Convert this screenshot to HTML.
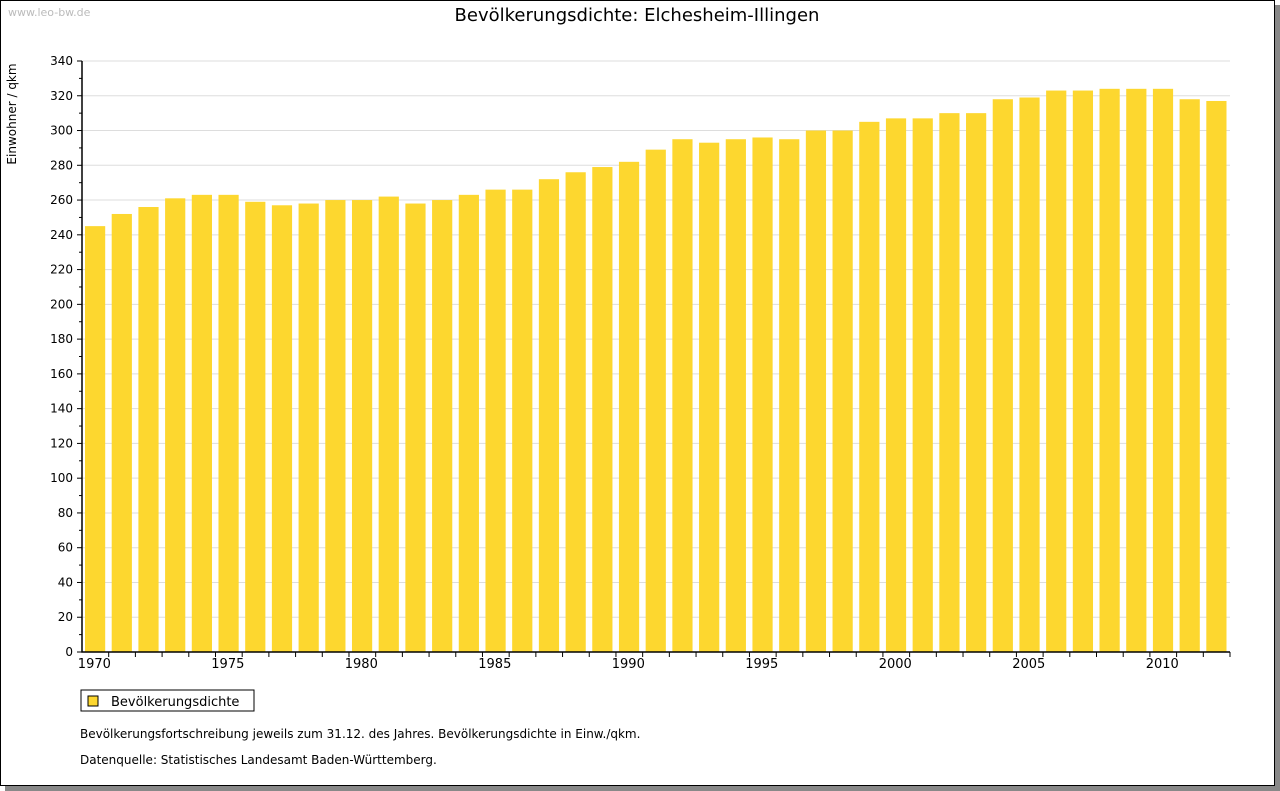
<!DOCTYPE html>
<html><head><meta charset="utf-8"><style>
body{margin:0;background:#fff;width:1280px;height:791px;overflow:hidden;font-family:"DejaVu Sans","Liberation Sans",sans-serif}
#frame{position:absolute;left:0;top:0;width:1273px;height:784px;border:1px solid #000;box-shadow:5px 5px 0 #888;background:#fff}
</style></head><body>
<div id="frame"></div>
<svg width="1280" height="791" style="position:absolute;left:0;top:0" font-family="DejaVu Sans, Liberation Sans, sans-serif">
<text x="8" y="16" font-size="11" fill="#bbb">www.leo-bw.de</text>
<text x="637" y="21" font-size="18" text-anchor="middle" fill="#000">Bevölkerungsdichte: Elchesheim-Illingen</text>
<text transform="translate(16,114) rotate(-90)" font-size="12" text-anchor="middle">Einwohner / qkm</text>
<g id="grid"></g><g id="bars"></g><g id="axes"></g>
<rect x="81" y="690" width="173" height="21" fill="#fff" stroke="#000"/>
<rect x="88" y="696" width="10" height="10" fill="#fdd72f" stroke="#000"/>
<text x="111" y="706" font-size="13">Bevölkerungsdichte</text>
<text x="80" y="738" font-size="12">Bevölkerungsfortschreibung jeweils zum 31.12. des Jahres. Bevölkerungsdichte in Einw./qkm.</text>
<text x="80" y="764" font-size="12">Datenquelle: Statistisches Landesamt Baden-Württemberg.</text>
</svg>
<script>
const years=[1970,1971,1972,1973,1974,1975,1976,1977,1978,1979,1980,1981,1982,1983,1984,1985,1986,1987,1988,1989,1990,1991,1992,1993,1994,1995,1996,1997,1998,1999,2000,2001,2002,2003,2004,2005,2006,2007,2008,2009,2010,2011,2012];
const values=[245,252,256,261,263,263,259,257,258,260,260,262,258,260,263,266,266,272,276,279,282,289,295,293,295,296,295,300,300,305,307,307,310,310,318,319,323,323,324,324,324,318,317];
const yTicks=[0,20,40,60,80,100,120,140,160,180,200,220,240,260,280,300,320,340];
const xLabels=[1970,1975,1980,1985,1990,1995,2000,2005,2010];
const NS="http://www.w3.org/2000/svg";
const L=82,R=1230,T=61,B=652,yMax=340;
const step=(R-L)/years.length;
const y=v=>B-(v/yMax)*(B-T);
const x=i=>L+i*step;
function mk(tag,attrs,parent){const e=document.createElementNS(NS,tag);for(const k in attrs)e.setAttribute(k,attrs[k]);document.getElementById(parent).appendChild(e);return e;}
yTicks.forEach(t=>{
 if(t>0){const g=mk('line',{x1:L,x2:R,y1:y(t),y2:y(t),stroke:'#ddd'},'grid');
 
 }
 const tk=mk('line',{x1:L-5,x2:L,y1:y(t),y2:y(t),stroke:'#000'},'axes');
 
 
 if(t+10<=yMax){const mt=mk('line',{x1:L-3,x2:L,y1:y(t+10),y2:y(t+10),stroke:'#000'},'axes');
 
 }
 const lb=mk('text',{x:L-9,y:y(t)+4,'font-size':12,'text-anchor':'end'},'axes');lb.textContent=t;
 
 
});
values.forEach((v,i)=>{
 const r=mk('rect',{x:x(i)+3,y:y(v),width:step-6.5,height:B-y(v),fill:'#fdd72f'},'bars');
 
 
 const tk=mk('line',{x1:x(i+1),x2:x(i+1),y1:B,y2:B+5,stroke:'#000'},'axes');
 
 
});
xLabels.forEach(yr=>{
 const i=years.indexOf(yr);
 const lb=mk('text',{x:x(i)+step/2-1,y:B+16,'font-size':13,'text-anchor':'middle'},'axes');lb.textContent=yr;
 
 
});
const ax=mk('path',{d:`M${L} ${T}V${B}H${R}`,stroke:'#000',fill:'none','stroke-width':1.5},'axes');


</script>
</body></html>
